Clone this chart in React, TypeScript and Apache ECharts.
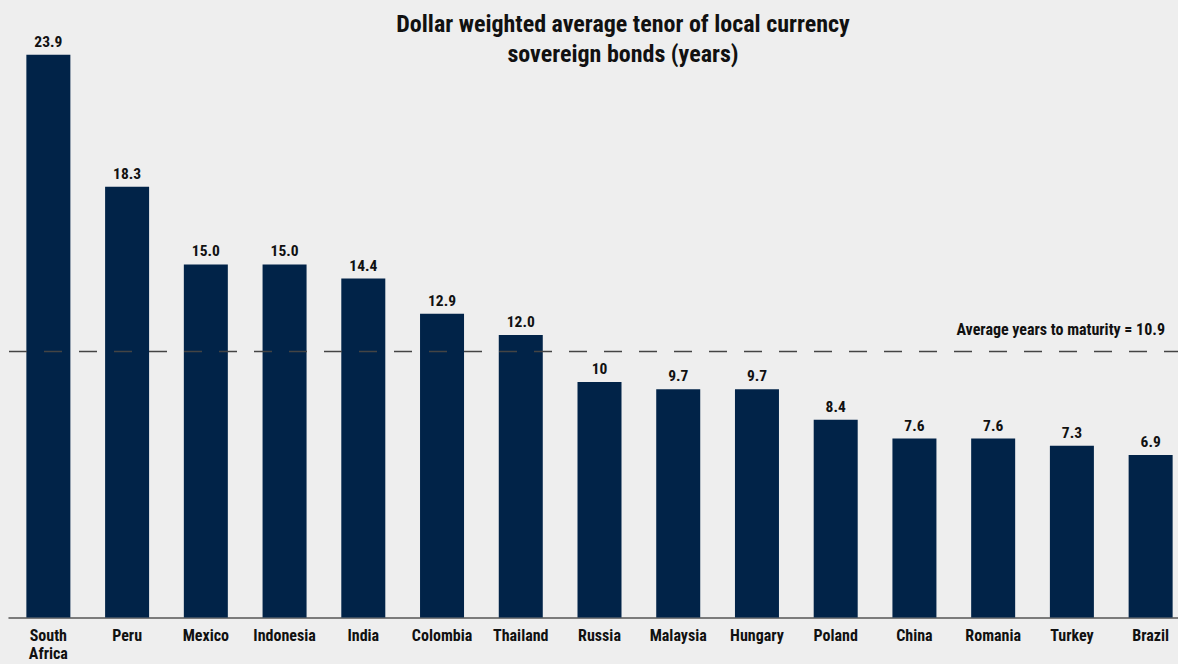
import React, { useEffect, useRef } from "react";
import * as echarts from "echarts";

const categories = [
  "South\nAfrica", "Peru", "Mexico", "Indonesia", "India", "Colombia", "Thailand",
  "Russia", "Malaysia", "Hungary", "Poland", "China", "Romania", "Turkey", "Brazil",
];
const values = [23.9, 18.3, 15.0, 15.0, 14.4, 12.9, 12.0, 10, 9.7, 9.7, 8.4, 7.6, 7.6, 7.3, 6.9];
const valueLabels = ["23.9", "18.3", "15.0", "15.0", "14.4", "12.9", "12.0", "10", "9.7", "9.7", "8.4", "7.6", "7.6", "7.3", "6.9"];
const averageLabel = "Average years to maturity = 10.9";
const averageLinePosition = 11.3;
const titleLines = ["Dollar weighted average tenor of local currency", "sovereign bonds (years)"];

const FONT = '"Roboto Condensed", "Open Sans Condensed", "Liberation Sans", sans-serif';

export default function App() {
  const ref = useRef<HTMLDivElement>(null);
  useEffect(() => {
    if (!ref.current) return;
    const chart = echarts.init(ref.current, null, { renderer: "svg" });
    chart.setOption({
      animation: false,
      backgroundColor: "#eeeeee",
      textStyle: { fontFamily: FONT },
      graphic: titleLines.map((t, i) => ({
        type: "text",
        x: 623,
        y: 24 + i * 30,
        style: {
          text: t,
          textAlign: "center",
          textVerticalAlign: "middle",
          fontFamily: FONT,
          fontWeight: "bold",
          fontSize: 24,
          fill: "#111111",
        },
      })),
      grid: {
        left: 9,
        right: -12,
        top: 52.5,
        bottom: 46.5,
        containLabel: false,
        outerBoundsMode: "none",
      },
      xAxis: {
        type: "category",
        data: categories,
        axisLine: { show: true, lineStyle: { color: "#555555", width: 1.5 } },
        axisTick: { show: false },
        axisLabel: {
          interval: 0,
          color: "#111111",
          fontFamily: FONT,
          fontWeight: "bold",
          fontSize: 16,
          lineHeight: 18,
          margin: 9,
        },
      },
      yAxis: {
        type: "value",
        min: 0,
        max: 24,
        show: false,
        splitLine: { show: false },
      },
      series: [
        {
          type: "bar",
          data: values,
          barWidth: 44,
          itemStyle: { color: "#012348" },
          label: {
            show: true,
            position: "top",
            distance: 5,
            formatter: (p: any) => valueLabels[p.dataIndex],
            color: "#111111",
            fontFamily: FONT,
            fontWeight: "bold",
            fontSize: 15.5,
          },
          markLine: {
            silent: true,
            symbol: "none",
            lineStyle: { color: "#444444", type: [18, 17], width: 1.3 },
            label: {
              show: true,
              position: "insideEndTop",
              formatter: averageLabel,
              color: "#111111",
              fontFamily: FONT,
              fontWeight: "bold",
              fontSize: 16,
              distance: [25, 14],
            },
            data: [{ yAxis: averageLinePosition }],
          },
        },
      ],
    });
    return () => chart.dispose();
  }, []);
  return (
    <div
      ref={ref}
      style={{ position: "fixed", left: 0, top: 0, width: 1178, height: 664 }}
    />
  );
}
